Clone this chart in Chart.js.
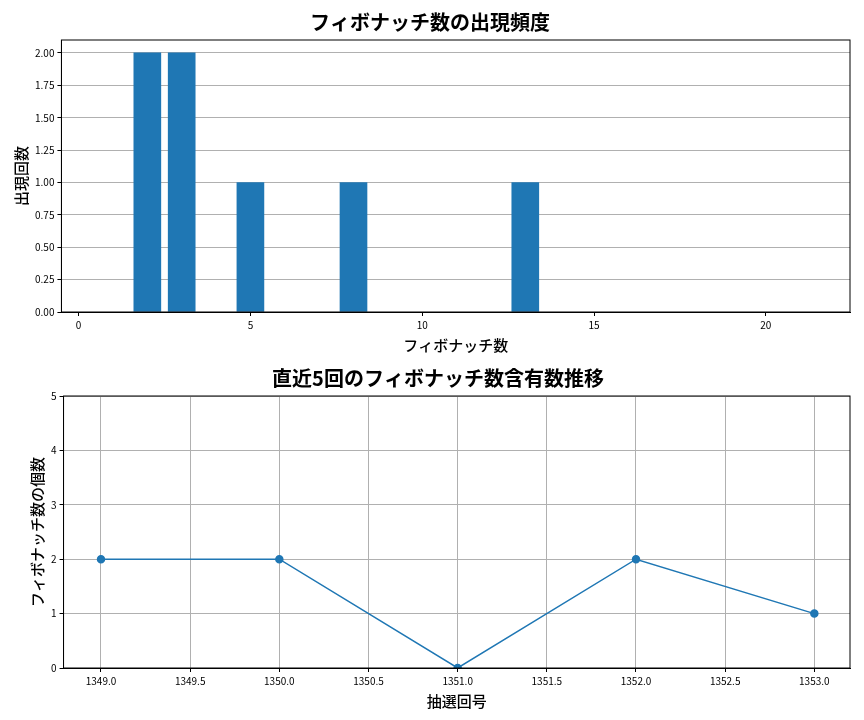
<!DOCTYPE html>
<html>
<head>
<meta charset="utf-8">
<script src="https://cdn.jsdelivr.net/npm/chart.js@4"></script>
<style>
body { margin:0; background:#fff; }
.box { position:absolute; left:0; width:864px; height:360px; }
</style>
</head>
<body>
<div class="box" style="top:0"><canvas id="top"></canvas></div>
<div class="box" style="top:356px"><canvas id="bottom"></canvas></div>
<script>
// 上: フィボナッチ数の出現頻度
const fibNumbers = [2, 3, 5, 8, 13];
const fibCounts = [2, 2, 1, 1, 1];
const topXTicks = [0, 5, 10, 15, 20];
const topYTicks = [0, 0.25, 0.5, 0.75, 1, 1.25, 1.5, 1.75, 2];

// 下: 直近5回の推移
const drawNumbers = [1349, 1350, 1351, 1352, 1353];
const fibContains = [2, 2, 0, 2, 1];
const bottomXTicks = [1349, 1349.5, 1350, 1350.5, 1351, 1351.5, 1352, 1352.5, 1353];
const bottomYTicks = [0, 1, 2, 3, 4, 5];

Chart.defaults.font.family = "'Noto Sans CJK JP', 'DejaVu Sans', sans-serif";
Chart.defaults.color = '#000';
Chart.defaults.animation = false;

const blue = '#1f77b4';
const gridCol = '#b0b0b0';

// 枠線 (上・右も)
const frame = {
    id: 'frame',
    afterDraw(chart) {
        const a = chart.chartArea, c = chart.ctx;
        c.save();
        c.strokeStyle = '#000';
        c.lineWidth = 1;
        c.strokeRect(a.left, a.top, a.right - a.left, a.bottom - a.top);
        c.restore();
    }
};

function fixTicks(list) {
    return function(scale) { scale.ticks = list.map(v => ({ value: v })); };
}
function titleOpt(text) {
    return { display: true, text: text, font: { size: 20, weight: 'bold' }, padding: { top: 10, bottom: 6 } };
}
function axisTitle(text) {
    return { display: true, text: text, font: { size: 15, weight: '500' }, padding: 2 };
}

new Chart(document.getElementById('top'), {
    type: 'bar',
    data: {
        datasets: [{
            data: fibNumbers.map((x, i) => ({ x: x, y: fibCounts[i] })),
            backgroundColor: blue,
            barThickness: 27,
        }]
    },
    plugins: [frame],
    options: {
        responsive: true,
        maintainAspectRatio: false,
        layout: { padding: { left: 10, right: 14, bottom: 4 } },
        plugins: { legend: { display: false }, title: titleOpt('フィボナッチ数の出現頻度'), tooltip: { enabled: false } },
        scales: {
            x: {
                type: 'linear', min: -0.5, max: 22.45, offset: false,
                afterBuildTicks: fixTicks(topXTicks),
                grid: { display: true, drawOnChartArea: false, offset: false, tickColor: '#000', tickLength: 4 },
                border: { color: '#000' },
                ticks: { font: { size: 10 }, callback: v => v },
                title: axisTitle('フィボナッチ数'),
            },
            y: {
                min: 0, max: 2.1,
                afterBuildTicks: fixTicks(topYTicks),
                grid: { color: gridCol, tickColor: '#000', tickLength: 4 },
                border: { color: '#000' },
                ticks: { font: { size: 10 }, callback: v => v.toFixed(2) },
                title: axisTitle('出現回数'),
            }
        }
    }
});

new Chart(document.getElementById('bottom'), {
    type: 'line',
    data: {
        datasets: [{
            data: drawNumbers.map((x, i) => ({ x: x, y: fibContains[i] })),
            borderColor: blue,
            backgroundColor: blue,
            borderWidth: 1.5,
            pointRadius: 3.5,
            tension: 0,
        }]
    },
    plugins: [frame],
    options: {
        responsive: true,
        maintainAspectRatio: false,
        layout: { padding: { left: 26, right: 14, bottom: 4 } },
        plugins: { legend: { display: false }, title: titleOpt('直近5回のフィボナッチ数含有数推移'), tooltip: { enabled: false } },
        scales: {
            x: {
                type: 'linear', min: 1348.79, max: 1353.2,
                afterBuildTicks: fixTicks(bottomXTicks),
                grid: { color: gridCol, tickColor: '#000', tickLength: 4 },
                border: { color: '#000' },
                ticks: { font: { size: 10 }, callback: v => v.toFixed(1) },
                title: axisTitle('抽選回号'),
            },
            y: {
                min: 0, max: 5,
                afterBuildTicks: fixTicks(bottomYTicks),
                grid: { color: gridCol, tickColor: '#000', tickLength: 4 },
                border: { color: '#000' },
                ticks: { font: { size: 10 }, callback: v => v },
                title: axisTitle('フィボナッチ数の個数'),
            }
        }
    }
});
</script>
</body>
</html>
